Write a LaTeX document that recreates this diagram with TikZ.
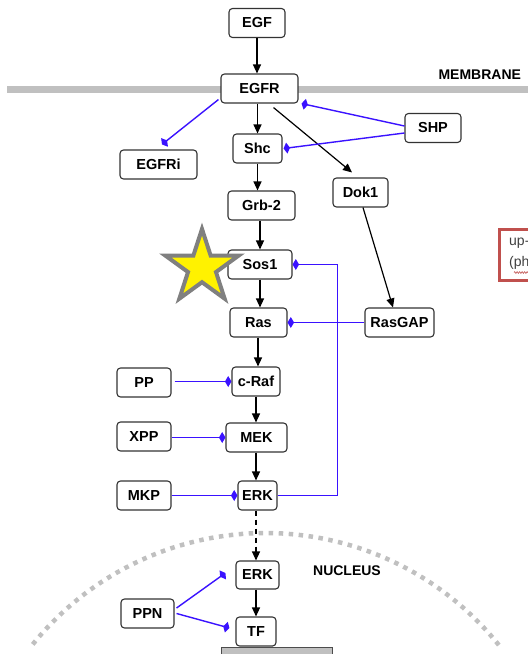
\documentclass[tikz,border=0pt]{standalone}
\usepackage{fontspec}
\setmainfont{Liberation Sans}
\usetikzlibrary{arrows.meta,decorations.pathmorphing,shapes.geometric}

\definecolor{inhib}{RGB}{58,18,255}
\definecolor{membr}{RGB}{192,192,192}
\definecolor{notered}{RGB}{192,80,77}
\definecolor{notetext}{RGB}{64,64,64}

\begin{document}
\begin{tikzpicture}[x=1pt,y=-1pt,
  mol/.style={draw=black!80, line width=1.1pt, rounded corners=3.5pt, fill=white,
    font=\bfseries\fontsize{14.5}{16}\selectfont, inner sep=0pt, minimum height=29pt},
  act/.style={-{Triangle[length=9pt,width=8pt]}, line width=1.2pt, black},
  inh/.style={-{Kite[length=6.5pt,width=11pt,inset=3.25pt]}, line width=1.4pt, inhib},
  region/.style={font=\bfseries\fontsize{14}{16}\selectfont}]

\clip (0,0) rectangle (528,654);
\fill[white] (0,0) rectangle (528,654);

% cell membrane
\fill[membr] (7,86) rectangle (528,93);
\node[region, anchor=west] (memlabel) at (435,74.5) {MEMBRANE};

% nuclear envelope (dotted arc)
\draw[membr, line width=4.5pt, dash pattern=on 4.5pt off 5.5pt]
  plot[domain=38.7:141.3, samples=120] ({265.5+299*cos(\x)}, {832-299*sin(\x)});
\node[region] (nuclabel) at (347,570.5) {NUCLEUS};

% DNA block under the transcription factor
\draw[draw=black!70, fill=membr, line width=1pt] (221,647) rectangle (332,670);

% note box at the right edge
\draw[notered, line width=3pt] (499,229) rectangle (560,280);
\node[anchor=west, text=notetext, font=\fontsize{14}{16}\selectfont, inner sep=0pt] (note1) at (509,243) {up-};
\node[anchor=west, text=notetext, font=\fontsize{14}{16}\selectfont, inner sep=0pt] (note2) at (509,263) {(ph};
\draw[notered, line width=0.6pt, decorate, decoration={zigzag, amplitude=0.9pt, segment length=2.5pt}]
  (514,272.5) -- (528,272.5);

% molecules
\node[mol, minimum width=56pt] (EGF)    at (257,23)     {EGF};
\node[mol, minimum width=77pt] (EGFR)   at (259.5,88.5) {EGFR};
\node[mol, minimum width=56pt] (SHP)    at (433,128)    {SHP};
\node[mol, minimum width=49pt] (Shc)    at (257.5,148.5){Shc};
\node[mol, minimum width=77pt] (EGFRi)  at (158.5,164.5){EGFRi};
\node[mol, minimum width=55pt] (Dok1)   at (360.5,192.5){Dok1};
\node[mol, minimum width=67pt] (Grb2)   at (261.5,205.5){Grb-2};
\node[mol, minimum width=64pt] (Sos1)   at (260,264.5)  {Sos1};
\node[mol, minimum width=57pt] (Ras)    at (258.5,322.5){Ras};
\node[mol, minimum width=69pt] (RasGAP) at (399.5,322.5){RasGAP};
\node[mol, minimum width=48pt] (cRaf)   at (256,381.5)  {c-Raf};
\node[mol, minimum width=54pt] (PP)     at (144,382.5)  {PP};
\node[mol, minimum width=61pt] (MEK)    at (256.5,437.5){MEK};
\node[mol, minimum width=54pt] (XPP)    at (144,436.5)  {XPP};
\node[mol, minimum width=39pt] (ERK)    at (257.5,495.5){ERK};
\node[mol, minimum width=54pt] (MKP)    at (144,495.5)  {MKP};
\node[mol, minimum width=43pt, minimum height=28pt] (ERKn) at (257.5,575) {ERK};
\node[mol, minimum width=40pt] (TF)     at (256,631.5)  {TF};
\node[mol, minimum width=53pt] (PPN)    at (147.5,613.5){PPN};

% highlight star
\node[star, star points=5, star point ratio=2.618, minimum size=77pt, inner sep=0pt,
      fill=yellow, draw=black!50, line width=4pt] (mark) at (202,267.5) {};

% activation arrows
\draw[act] (EGF.south) -- (EGF.south |- EGFR.north);
\draw[act] (Shc.north |- EGFR.south) -- (Shc.north);
\draw[act] ([xshift=14pt,yshift=-4pt]EGFR.south) -- ([xshift=-8.5pt,yshift=5pt]Dok1.north);
\draw[act] (Shc.south) -- (Shc.south |- Grb2.north);
\draw[act] (Sos1.north |- Grb2.south) -- (Sos1.north);
\draw[act] (Sos1.south) -- (Sos1.south |- Ras.north);
\draw[act] ([xshift=2.5pt]Dok1.south) -- ([xshift=-6.5pt]RasGAP.north);
\draw[act] ([xshift=-0.5pt]Ras.south) -- ([xshift=-0.5pt]Ras.south |- cRaf.north);
\draw[act] (cRaf.south) -- (cRaf.south |- MEK.north);
\draw[act] (cRaf.south |- MEK.south) -- (cRaf.south |- ERK.north);
\draw[act, dash pattern=on 5pt off 4pt] (cRaf.south |- ERK.south) -- (cRaf.south |- ERKn.north);
\draw[act] (cRaf.south |- ERKn.south) -- (TF.north);

% inhibitory / regulatory links
\draw[inh] ([xshift=-2pt,yshift=4pt]EGFR.south west) -- ([xshift=3.5pt,yshift=5pt]EGFRi.north);
\draw[inh] ([yshift=2pt]SHP.west) -- ([xshift=3pt]EGFR.south east);
\draw[inh] ([yshift=-5pt]SHP.west) -- ([xshift=1pt]Shc.east);
\draw[inh] (RasGAP.west) -- (Ras.east);
\draw[inh] (ERK.east) -- ++(60,0) |- (Sos1.east);
\draw[inh] ([xshift=3pt]PP.east |- cRaf.west) -- (cRaf.west);
\draw[inh] (XPP.east |- MEK.west) -- (MEK.west);
\draw[inh] (MKP.east) -- (ERK.west);
\draw[inh] ([xshift=2pt,yshift=5.5pt]PPN.east) -- ([xshift=-10pt,yshift=2pt]ERKn.west);
\draw[inh] ([xshift=2pt]PPN.east) -- ([xshift=-6pt,yshift=3.5pt]TF.west);
\end{tikzpicture}
\end{document}
